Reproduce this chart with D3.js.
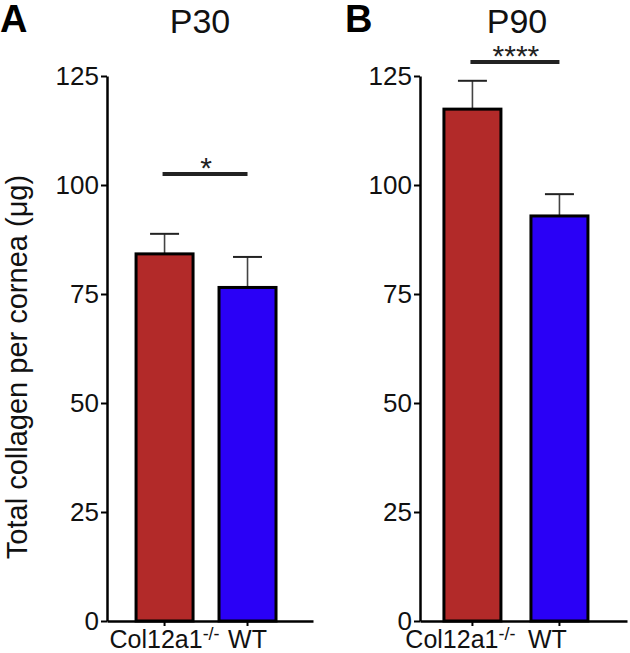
<!DOCTYPE html>
<html><head><meta charset="utf-8">
<script src="https://cdn.jsdelivr.net/npm/d3@7"></script>
<style>body{margin:0;background:#fff}svg{display:block}text{font-family:"Liberation Sans",Arial,sans-serif}</style>
</head><body>
<svg id="c" width="630" height="653"></svg>
<script>
const categories = ["Col12a1", "WT"];
const panelLetters = ["A", "B"];
const panelTitles = ["P30", "P90"];
const meansP30 = [84.2, 76.5];
const errP30 = [4.6, 7.0];
const meansP90 = [117.4, 92.9];
const errP90 = [6.5, 5.0];
const sigLabels = ["*", "****"];
const sigLevels = [102.5, 128.2];
const yTicks = [0, 25, 50, 75, 100, 125];
const yLabel = "Total collagen per cornea (\u03bcg)";

const colors = ["#b22a29", "#2a00f6"];
const svg = d3.select("#c");
const y = d3.scaleLinear().domain([0, 125]).range([621, 76]);

const panels = [
  {x0:107, x1:313, pi:0.313, po:0.398, al:0.44, means:meansP30, errs:errP30, lx:0, tx:200, labShift:0},
  {x0:420, x1:627, pi:0.345, po:0.362, al:0.38, means:meansP90, errs:errP90, lx:345, tx:517, labShift:-12}
];

// y-axis title
svg.append("text").attr("transform","translate(27,367) rotate(-90)")
  .attr("text-anchor","middle").attr("font-size",29).attr("fill","#111").text(yLabel);

panels.forEach((p,i)=>{
  const g = svg.append("g");
  const x = d3.scaleBand().domain(categories).range([p.x0,p.x1])
    .paddingInner(p.pi).paddingOuter(p.po).align(p.al);
  // letter & title
  g.append("text").attr("x",p.lx).attr("y",32).attr("font-size",38).attr("font-weight","bold").attr("fill","#000").text(panelLetters[i]);
  g.append("text").attr("x",p.tx).attr("y",33).attr("text-anchor","middle").attr("font-size",34).attr("fill","#111").text(panelTitles[i]);

  // bars
  categories.forEach((c,j)=>{
    const v = p.means[j], e = p.errs[j];
    const cx = x(c)+x.bandwidth()/2;
    g.append("line").attr("x1",cx).attr("x2",cx).attr("y1",y(v)).attr("y2",y(v+e)).attr("stroke","#444").attr("stroke-width",1.6);
    g.append("line").attr("x1",cx-14.5).attr("x2",cx+14.5).attr("y1",y(v+e)).attr("y2",y(v+e)).attr("stroke","#222").attr("stroke-width",2);
    g.append("rect").attr("x",x(c)).attr("y",y(v)).attr("width",x.bandwidth()).attr("height",y(0)-y(v))
      .attr("fill",colors[j]).attr("stroke","#000").attr("stroke-width",3);
  });

  // axes
  const ya = g.append("g").attr("transform",`translate(${p.x0},0)`)
    .call(d3.axisLeft(y).tickValues(yTicks).tickSize(6).tickPadding(2).tickSizeOuter(0));
  ya.select(".domain").attr("stroke","#000").attr("stroke-width",2.5);
  ya.selectAll(".tick line").attr("stroke","#000").attr("stroke-width",2);
  ya.selectAll(".tick text").attr("font-size",26).attr("fill","#111").attr("font-family",'"Liberation Sans",Arial,sans-serif');

  const xa = g.append("g").attr("transform",`translate(0,${y(0)})`)
    .call(d3.axisBottom(x).tickSize(5).tickSizeOuter(0).tickFormat(""));
  xa.select(".domain").attr("stroke","#000").attr("stroke-width",2.5);
  xa.selectAll(".tick line").attr("stroke","#000").attr("stroke-width",2);

  // x labels
  categories.forEach((c,j)=>{
    const cx = x(c)+x.bandwidth()/2 + p.labShift;
    const t = g.append("text").attr("x",cx).attr("y",648).attr("text-anchor","middle").attr("font-size",25).attr("fill","#111");
    t.append("tspan").text(c);
    if (j===0) t.append("tspan").attr("dy",-8).attr("font-size",18).text("-/-");
  });

  // significance
  const c0 = x(categories[0])+x.bandwidth()/2, c1 = x(categories[1])+x.bandwidth()/2;
  g.append("line").attr("x1",c0-2).attr("x2",c1).attr("y1",y(sigLevels[i])).attr("y2",y(sigLevels[i])).attr("stroke","#222").attr("stroke-width",4);
  g.append("text").attr("x",(c0+c1)/2).attr("y",y(sigLevels[i])+4).attr("text-anchor","middle").attr("font-size",30).attr("fill","#222").text(sigLabels[i]);
});
</script>
</body></html>
